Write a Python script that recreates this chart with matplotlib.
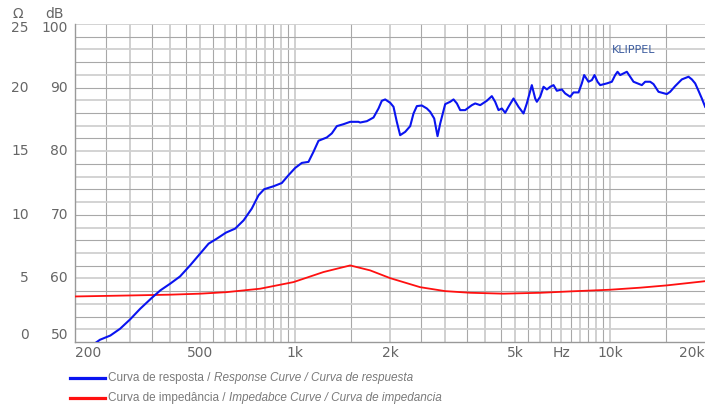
import numpy as np
import matplotlib
matplotlib.use("Agg")
import matplotlib.pyplot as plt
from matplotlib.lines import Line2D
import matplotlib.transforms as mtransforms

plt.rcParams['font.family'] = ['Liberation Sans', 'DejaVu Sans']

## response curve, Hz / dB
resp_f = [233, 240, 259, 278, 299, 322, 351, 373, 401, 431, 464, 499, 531, 564,
          603, 645, 686, 728, 765, 797, 854, 907, 952, 1000, 1050, 1102, 1143,
          1186, 1260, 1307, 1356, 1424, 1495, 1588,
          1608, 1689, 1773, 1839, 1884, 1931, 2003, 2052, 2102, 2154, 2235,
          2318, 2375, 2434, 2524, 2618, 2683, 2763, 2831, 2887, 2994, 3105,
          3182, 3261, 3341, 3465, 3638, 3728, 3867, 4059, 4210, 4314, 4421,
          4530, 4642, 4756, 4933, 5117, 5307, 5437, 5640, 5780, 5851, 5995,
          6143, 6296, 6451, 6610, 6773, 7025, 7197, 7464, 7648, 7933, 8128,
          8268, 8535, 8746, 8919, 9116, 9296, 9759, 10123, 10373, 10551,
          10758, 11023, 11295, 11574, 11860, 12603, 12915, 13397, 13728,
          14238, 15130, 15503, 16084, 16885, 17730, 18167, 18615, 19073,
          19543, 20025]
resp_db = [49.9, 50.35, 51.02, 52.08, 53.54, 55.22, 56.96, 58.11, 59.17, 60.31,
           62.05, 63.89, 65.46, 66.25, 67.2, 67.83, 69.13, 70.97, 73.07, 74.02,
           74.49, 75.0, 76.22, 77.37, 78.16, 78.32, 79.9, 81.64, 82.16, 82.8,
           83.94, 84.25, 84.62, 84.62,
           84.51, 84.72, 85.30, 86.72, 87.93, 88.14, 87.61, 86.98, 84.62, 82.52,
           83.04, 83.94, 85.93, 87.09, 87.19, 86.72, 86.19, 85.14, 82.36, 84.36,
           87.40, 87.77, 88.14, 87.51, 86.46, 86.46, 87.24, 87.51, 87.24, 87.93,
           88.66, 87.77, 86.46, 86.72, 86.04, 86.98, 88.29, 86.98, 85.93, 87.51,
           90.39, 88.29, 87.77, 88.56, 90.13, 89.71, 90.13, 90.39, 89.5, 89.71,
           89.08, 88.56, 89.24, 89.24, 90.66, 91.97, 90.92, 91.18, 91.97, 90.92,
           90.39, 90.66, 90.92, 91.97, 92.49, 91.97, 92.23, 92.49, 91.71, 90.92,
           90.39, 90.92, 90.92, 90.55, 89.34, 88.98, 89.34, 90.24, 91.29, 91.71,
           91.29, 90.66, 89.5, 88.29, 86.98]

## impedance curve, Hz / ohm
imp_f = [200, 300, 400, 500, 606, 774, 988, 1230, 1291, 1495, 1730, 2003, 2493,
         2993, 3595, 4587, 6022, 7486, 10000, 12450, 15120, 20000]
imp_ohm = [3.58, 3.66, 3.72, 3.80, 3.92, 4.19, 4.71, 5.50, 5.63, 6.02, 5.63,
           5.02, 4.31, 4.00, 3.87, 3.80, 3.87, 3.98, 4.11, 4.27, 4.45, 4.78]

db_ticks = [50, 60, 70, 80, 90, 100]
ohm_ticks = [0, 5, 10, 15, 20, 25]
x_ticks = [200, 500, 1000, 2000, 5000, 7000, 10000, 20000]
x_labels = ['200', '500', '1k', '2k', '5k', 'Hz', '10k', '20k']

txt_col = '#666666'
lab_font = ['DejaVu Sans']

fig = plt.figure(figsize=(7.05, 4.05), dpi=100)
ax = fig.add_axes([75/705, 1-342/405, 630/705, 318/405])
ax.set_xscale('log')
ax.set_xlim(200, 20000)
ax.set_ylim(50, 100)

# grid: vertical lines at half steps of each decade
vlines = []
for dec in [100, 1000, 10000]:
    for m in np.arange(1.0, 10.0, 0.5):
        vlines.append(dec*m)
for v in vlines:
    if v <= 200 or v >= 20000:
        continue
    if v > 10000 and v != 15000:
        continue
    if abs(v / (10**np.floor(np.log10(v))) % 1) < 1e-6:
        ax.axvline(v, color='#d0d0d0', lw=1.4, zorder=1)
    else:
        ax.axvline(v, color='#a8a8a8', lw=0.8, zorder=1)
for i, h in enumerate(range(52, 101, 2)):
    if i % 2 == 0:
        ax.axhline(h, color='#d0d0d0', lw=1.3, zorder=1)
    else:
        ax.axhline(h, color='#a8a8a8', lw=0.8, zorder=1)

ax.plot(imp_f, [50 + 2*o for o in imp_ohm], color='#ff1010', lw=1.3, zorder=3)
ax.plot(resp_f, resp_db, color='#0a14f0', lw=1.5, zorder=4)

for s in ['top', 'right']:
    ax.spines[s].set_visible(False)
for s in ['left', 'bottom']:
    ax.spines[s].set_color('#999999')
    ax.spines[s].set_linewidth(1.0)
ax.set_xticks([])
ax.set_yticks([])
ax.minorticks_off()

# y labels (two columns)
tr = mtransforms.blended_transform_factory(fig.transFigure, ax.transData)
for d, o in zip(db_ticks, ohm_ticks):
    yy = d
    if d == 50:
        yy = 51.1
    if d == 100:
        yy = 99.35
    ax.text(68/705, yy, str(d), transform=tr, ha='right', va='center',
            fontsize=10, color=txt_col, family=lab_font)
    ax.text(29/705, yy, str(o), transform=tr, ha='right', va='center',
            fontsize=10, color=txt_col, family=lab_font)
fig.text(18/705, 1-14/405, 'Ω', ha='center', va='center', fontsize=10,
         color=txt_col, family=lab_font)
fig.text(55/705, 1-14/405, 'dB', ha='center', va='center', fontsize=10,
         color=txt_col, family=lab_font)

# x labels
trx = mtransforms.blended_transform_factory(ax.transData, fig.transFigure)
for f, lab in zip(x_ticks, x_labels):
    ha = 'center'
    if f == 200:
        ha = 'left'
    if f == 20000:
        ha = 'right'
    ax.text(f, 1-353/405, lab, transform=trx, ha=ha, va='center',
            fontsize=10, color=txt_col, family=lab_font)

ax.text(11900, 95.9, 'KLIPPEL', ha='center', va='center', fontsize=8,
        color='#3b5b9e', zorder=5, family=lab_font)

# legend
fig.add_artist(Line2D([70/705, 105/705], [1-378/405]*2, color='#0a14f0', lw=2.3))
fig.add_artist(Line2D([70/705, 105/705], [1-398/405]*2, color='#ff1010', lw=2.3))
t1 = fig.text(108/705, 1-378/405, 'Curva de resposta / ', ha='left', va='center',
              fontsize=8.5, color='#7a7a7a')
ax.annotate('Response Curve / Curva de respuesta', xy=(1, 0.5), xycoords=t1,
            ha='left', va='center', fontsize=8.5, color='#7a7a7a', style='italic',
            annotation_clip=False)
t2 = fig.text(108/705, 1-398/405, 'Curva de impedância / ', ha='left', va='center',
              fontsize=8.5, color='#7a7a7a')
ax.annotate('Impedabce Curve / Curva de impedancia', xy=(1, 0.5), xycoords=t2,
            ha='left', va='center', fontsize=8.5, color='#7a7a7a', style='italic',
            annotation_clip=False)

fig.savefig('out.png', dpi=100)
